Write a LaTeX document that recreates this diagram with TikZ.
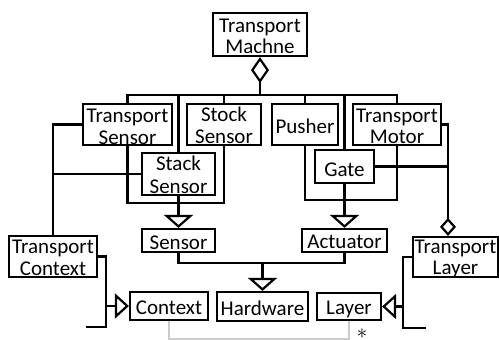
\documentclass[tikz,border=0pt]{standalone}
\usepackage{fontspec}
\setmainfont{Carlito}
\usetikzlibrary{arrows.meta,positioning}
\tikzset{
  box/.style={draw, line width=2.2pt, inner sep=0pt, fill=white},
  lbl/.style={anchor=base, inner sep=0pt, font=\fontsize{21}{24}\selectfont},
  conn/.style={line width=2.2pt},
  genv/.style={conn, -{Triangle[open, length=13pt, width=29pt, fill=white]}},
  genh/.style={conn, -{Triangle[open, length=14pt, width=25pt, fill=white]}},
  aggtop/.style={conn, {Diamond[open, length=26pt, width=18pt, fill=white]}-},
  aggright/.style={conn, {Diamond[open, length=18pt, width=16pt, fill=white]}-},
}
\newcommand\mylbl[3]{\node[lbl] (#1) at (#2) {#3};}
\begin{document}
\begin{tikzpicture}[x=1pt, y=-1pt]
\useasboundingbox (0,0) rectangle (499,340);

% boxes
\node[box, minimum width=94pt, minimum height=43pt] (tmach) at (260,34.5) {};
\node[box, minimum width=89pt, minimum height=41pt] (ts) at (127.5,124.5) {};
\node[box, minimum width=74pt, minimum height=41pt] (ss) at (224,124.5) {};
\node[box, minimum width=66pt, minimum height=41pt] (pu) at (305,124.5) {};
\node[box, minimum width=88pt, minimum height=41pt] (tmot) at (397,124.5) {};
\node[box, minimum width=73pt, minimum height=42pt] (stk) at (178.5,174) {};
\node[box, minimum width=59pt, minimum height=33pt] (gate) at (344.5,166.5) {};
\node[box, minimum width=73pt, minimum height=23pt] (sensor) at (178.5,240.5) {};
\node[box, minimum width=85pt, minimum height=23pt] (act) at (344.5,240.5) {};
\node[box, minimum width=88pt, minimum height=41pt] (tctx) at (53,256.5) {};
\node[box, minimum width=85pt, minimum height=40pt] (tlay) at (455.5,257) {};
\node[box, minimum width=78pt, minimum height=28pt] (ctx) at (169,306) {};
\node[box, minimum width=91pt, minimum height=29pt] (hw) at (262.5,306.5) {};
\node[box, minimum width=64pt, minimum height=27pt] (lay) at (349,306.5) {};

% coordinates
\coordinate (bus) at (0,95);
\coordinate (lj) at (178.5,203);
\coordinate (rj) at (344.5,200);
\coordinate (hj) at (262.5,263);
\coordinate (trbus) at (448,124.5);
\coordinate (ctxfree) at (86,327);
\coordinate (layfree) at (426,328);
\coordinate (ctxj) at (106,306);
\coordinate (layj) at (403,306.5);
\coordinate (botline) at (0,339);

% composition of Transport Machne
\draw[aggtop] (tmach.south) -- (tmach.south |- bus);
\draw[conn] (ts.north) |- (bus -| tmot.north) -- (tmot.north);
\draw[conn] (stk.north) -- (stk.north |- bus);
\draw[conn] (ss.north) -- (ss.north |- bus);
\draw[conn] (pu.north) -- (pu.north |- bus);
\draw[conn] (gate.north) -- (gate.north |- bus);

% sensors -> Sensor
\draw[conn] (ts.south) |- (lj) -| (ss.south);
\draw[conn] (stk.south) -- (lj);
\draw[genv] (lj) -- (sensor.north);

% actuators -> Actuator
\draw[conn] (pu.south) |- (rj) -| (tmot.south);
\draw[conn] (gate.south) -- (rj);
\draw[genv] (rj) -- (act.north);

% Sensor, Actuator -> Hardware
\draw[conn] (sensor.south) |- (hj) -| (act.south);
\draw[genv] (hj) -- (hw.north);

% Transport Context
\draw[conn] (tctx.north) |- (ts.west);
\draw[conn] (stk.west) -- (stk.west -| tctx.north);
\draw[conn] (tctx.east) -| (ctxj) |- (ctxfree);
\draw[genh] (ctxj) -- (ctx.west);

% Transport Layer
\draw[aggright] (tlay.north -| trbus) -- (trbus) -- (tmot.east);
\draw[conn] (gate.east) -- (gate.east -| trbus);
\draw[conn] (tlay.west) -| (layj) |- (layfree);
\draw[genh] (layj) -- (lay.east);

% Context -- Layer
\draw[conn, gray!40] (ctx.south) -- (ctx.south |- botline) -| (lay.south);
\node[inner sep=0pt, font=\fontsize{22}{24}\selectfont] (star) at (362,334) {$\ast$};

% labels
\mylbl{l1}{260,32}{Transport}
\mylbl{l2}{260,53}{Machne}
\mylbl{l3}{127.5,122}{Transport}
\mylbl{l4}{127.5,144}{Sensor}
\mylbl{l5}{224,121}{Stock}
\mylbl{l6}{224,143}{Sensor}
\mylbl{l7}{305,133}{Pusher}
\mylbl{l8}{397,122}{Transport}
\mylbl{l9}{397,143}{Motor}
\mylbl{l10}{178.5,170}{Stack}
\mylbl{l11}{178.5,193}{Sensor}
\mylbl{l12}{344.5,176}{Gate}
\mylbl{l13}{178.5,249}{Sensor}
\mylbl{l14}{344.5,248}{Actuator}
\mylbl{l15}{53,253}{Transport}
\mylbl{l16}{53,275}{Context}
\mylbl{l17}{455.5,253}{Transport}
\mylbl{l18}{455.5,274}{Layer}
\mylbl{l19}{169,314}{Context}
\mylbl{l20}{262.5,315}{Hardware}
\mylbl{l21}{349,314}{Layer}
\end{tikzpicture}
\end{document}
